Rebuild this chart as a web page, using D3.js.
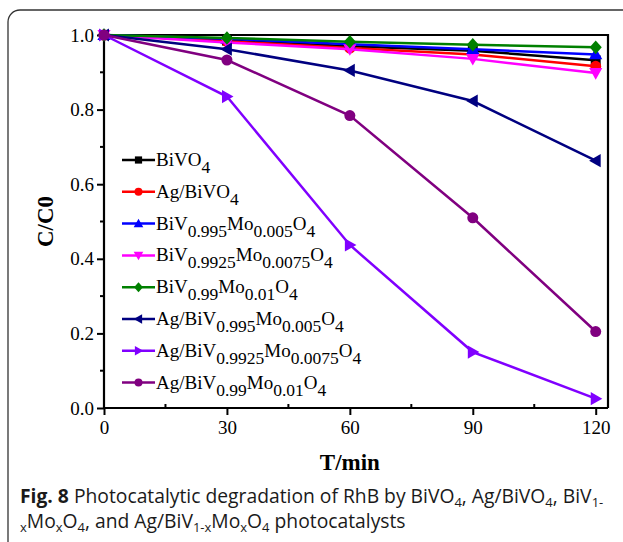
<!DOCTYPE html>
<html>
<head>
<meta charset="utf-8">
<script src="https://cdn.jsdelivr.net/npm/d3@7"></script>
<style>
  body { margin: 0; background: #fff; }
  svg { display: block; }
</style>
</head>
<body>
<script>
var w = 623, h = 542;

// data
var times = [0, 30, 60, 90, 120];
var bivo4 = [1.0, 0.985, 0.97, 0.958, 0.932];
var agBivo4 = [1.0, 0.983, 0.965, 0.948, 0.916];
var biv995 = [1.0, 0.99, 0.975, 0.962, 0.948];
var biv9925 = [1.0, 0.98, 0.962, 0.936, 0.898];
var biv99 = [1.0, 0.992, 0.982, 0.974, 0.967];
var agBiv995 = [1.0, 0.962, 0.905, 0.823, 0.663];
var agBiv9925 = [1.0, 0.835, 0.437, 0.15, 0.025];
var agBiv99 = [1.0, 0.933, 0.784, 0.51, 0.205];

var names = [
  [["BiVO", ""], ["4", "sub"]],
  [["Ag/BiVO", ""], ["4", "sub"]],
  [["BiV", ""], ["0.995", "sub"], ["Mo", ""], ["0.005", "sub"], ["O", ""], ["4", "sub"]],
  [["BiV", ""], ["0.9925", "sub"], ["Mo", ""], ["0.0075", "sub"], ["O", ""], ["4", "sub"]],
  [["BiV", ""], ["0.99", "sub"], ["Mo", ""], ["0.01", "sub"], ["O", ""], ["4", "sub"]],
  [["Ag/BiV", ""], ["0.995", "sub"], ["Mo", ""], ["0.005", "sub"], ["O", ""], ["4", "sub"]],
  [["Ag/BiV", ""], ["0.9925", "sub"], ["Mo", ""], ["0.0075", "sub"], ["O", ""], ["4", "sub"]],
  [["Ag/BiV", ""], ["0.99", "sub"], ["Mo", ""], ["0.01", "sub"], ["O", ""], ["4", "sub"]]
];
var colors = ["#000000", "#ff0000", "#0000ff", "#ff00ff", "#008000", "#000080", "#8000ff", "#800080"];
var markers = ["square", "circle", "up", "down", "diamond", "left", "right", "circle"];
var allSeries = [bivo4, agBivo4, biv995, biv9925, biv99, agBiv995, agBiv9925, agBiv99];

var xTicks = [0, 30, 60, 90, 120];
var yTicks = [0.0, 0.2, 0.4, 0.6, 0.8, 1.0];

var pLeft = 104, pRight = 608, pTop = 35, pBottom = 408;

var svg = d3.select("body").append("svg")
  .attr("width", w)
  .attr("height", h);

// rounded figure frame
svg.append("rect")
  .attr("x", 8).attr("y", 10)
  .attr("width", 640).attr("height", 560)
  .attr("rx", 12)
  .attr("fill", "none")
  .attr("stroke", "#333")
  .attr("stroke-width", 1.3);

var x = d3.scaleLinear().domain([0, 123]).range([pLeft, pRight]);
var y = d3.scaleLinear().domain([0, 1]).range([pBottom, pTop]);

// frame top/right
svg.append("path")
  .attr("d", "M" + pLeft + "," + pTop + "H" + pRight + "V" + pBottom)
  .attr("fill", "none").attr("stroke", "#000").attr("stroke-width", 2.2);

// minor ticks
var g = svg.append("g");
[15, 45, 75, 105].forEach(function (t) {
  g.append("line").attr("x1", x(t)).attr("x2", x(t))
    .attr("y1", pBottom - 4).attr("y2", pBottom + 1)
    .attr("stroke", "#000").attr("stroke-width", 2);
});
[0.1, 0.3, 0.5, 0.7, 0.9].forEach(function (t) {
  g.append("line").attr("x1", pLeft - 4).attr("x2", pLeft + 1)
    .attr("y1", y(t)).attr("y2", y(t))
    .attr("stroke", "#000").attr("stroke-width", 2);
});

var xAxis = svg.append("g")
  .attr("transform", "translate(0," + pBottom + ")")
  .call(d3.axisBottom(x).tickValues(xTicks).tickSize(7).tickSizeOuter(0).tickPadding(6));
var yAxis = svg.append("g")
  .attr("transform", "translate(" + pLeft + ",0)")
  .call(d3.axisLeft(y).tickValues(yTicks).tickSize(7).tickSizeOuter(0).tickPadding(3)
    .tickFormat(d3.format(".1f")));

[xAxis, yAxis].forEach(function (a) {
  a.select(".domain").attr("stroke-width", 2.2);
  a.selectAll(".tick line").attr("stroke-width", 2);
  a.selectAll("text")
    .attr("font-family", "Liberation Serif, Times New Roman, serif")
    .attr("font-size", 19).attr("fill", "#000");
});
xAxis.select(".domain").attr("d", "M" + pLeft + ",0H" + pRight);
yAxis.select(".domain").attr("d", "M0," + pBottom + "V" + pTop);

svg.append("text")
  .attr("x", x(60)).attr("y", 470)
  .attr("text-anchor", "middle")
  .attr("font-family", "Liberation Serif, Times New Roman, serif")
  .attr("font-weight", "bold").attr("font-size", 23)
  .text("T/min");

svg.append("text")
  .attr("transform", "translate(53," + y(0.5) + ") rotate(-90)")
  .attr("text-anchor", "middle")
  .attr("font-family", "Liberation Serif, Times New Roman, serif")
  .attr("font-weight", "bold").attr("font-size", 23)
  .text("C/C0");

function marker(sel, type, size) {
  var s = size;
  var pts;
  if (type === "square") {
    sel.append("rect").attr("x", -s * 0.45).attr("y", -s * 0.45)
      .attr("width", s * 0.9).attr("height", s * 0.9);
    return;
  }
  if (type === "circle") {
    sel.append("circle").attr("r", s * 0.5);
    return;
  }
  if (type === "up") pts = [[0, -s * 0.6], [s * 0.6, s * 0.45], [-s * 0.6, s * 0.45]];
  if (type === "down") pts = [[0, s * 0.6], [s * 0.6, -s * 0.45], [-s * 0.6, -s * 0.45]];
  if (type === "left") pts = [[-s * 0.6, 0], [s * 0.45, -s * 0.6], [s * 0.45, s * 0.6]];
  if (type === "right") pts = [[s * 0.6, 0], [-s * 0.45, -s * 0.6], [-s * 0.45, s * 0.6]];
  if (type === "diamond") pts = [[0, -s * 0.62], [s * 0.55, 0], [0, s * 0.62], [-s * 0.55, 0]];
  sel.append("polygon").attr("points", pts.map(function (p) { return p.join(","); }).join(" "));
}

var line = d3.line()
  .x(function (d, i) { return x(times[i]); })
  .y(function (d) { return y(d); });

allSeries.forEach(function (vals, k) {
  var sg = svg.append("g");
  sg.append("path")
    .attr("d", line(vals))
    .attr("fill", "none")
    .attr("stroke", colors[k])
    .attr("stroke-width", 2.5);
  vals.forEach(function (v, i) {
    var m = sg.append("g")
      .attr("transform", "translate(" + x(times[i]) + "," + y(v) + ")")
      .attr("fill", colors[k]);
    marker(m, markers[k], 11);
  });
});

// legend
names.forEach(function (parts, k) {
  var lg = svg.append("g").attr("transform", "translate(0," + (160 + k * 31.8) + ")");
  lg.append("line").attr("x1", 122).attr("x2", 155).attr("y1", 0).attr("y2", 0)
    .attr("stroke", colors[k]).attr("stroke-width", 2.5);
  var m = lg.append("g").attr("transform", "translate(138.5,0)").attr("fill", colors[k]);
  marker(m, markers[k], 8);
  var t = lg.append("text")
    .attr("x", 156).attr("y", 6)
    .attr("font-family", "Liberation Serif, Times New Roman, serif")
    .attr("font-size", 19).attr("fill", "#000");
  var sub = false;
  parts.forEach(function (p) {
    var ts = t.append("tspan").text(p[0]);
    if (p[1] === "sub") {
      ts.attr("font-size", 17.5).attr("dy", sub ? 0 : 7);
      sub = true;
    } else {
      ts.attr("dy", sub ? -7 : 0);
      sub = false;
    }
  });
});

// caption
var cap = svg.append("g")
  .attr("font-family", "Open Sans, Noto Sans, sans-serif")
  .attr("font-size", 19.3).attr("fill", "#1a1a1a");
var c1 = cap.append("text").attr("x", 20).attr("y", 503);
c1.append("tspan").attr("font-weight", "bold").text("Fig. 8");
c1.append("tspan").text(" Photocatalytic degradation of RhB by BiVO");
c1.append("tspan").attr("font-size", 13).attr("dy", 4).text("4");
c1.append("tspan").attr("dy", -4).text(", Ag/BiVO");
c1.append("tspan").attr("font-size", 13).attr("dy", 4).text("4");
c1.append("tspan").attr("dy", -4).text(", BiV");
c1.append("tspan").attr("font-size", 13).attr("dy", 4).text("1-");

var c2 = cap.append("text").attr("x", 20).attr("y", 528);
c2.append("tspan").attr("font-size", 13).attr("dy", 4).text("x");
c2.append("tspan").attr("dy", -4).text("Mo");
c2.append("tspan").attr("font-size", 13).attr("dy", 4).text("x");
c2.append("tspan").attr("dy", -4).text("O");
c2.append("tspan").attr("font-size", 13).attr("dy", 4).text("4");
c2.append("tspan").attr("dy", -4).text(", and Ag/BiV");
c2.append("tspan").attr("font-size", 13).attr("dy", 4).text("1-x");
c2.append("tspan").attr("dy", -4).text("Mo");
c2.append("tspan").attr("font-size", 13).attr("dy", 4).text("x");
c2.append("tspan").attr("dy", -4).text("O");
c2.append("tspan").attr("font-size", 13).attr("dy", 4).text("4");
c2.append("tspan").attr("dy", -4).text(" photocatalysts");
</script>
</body>
</html>
